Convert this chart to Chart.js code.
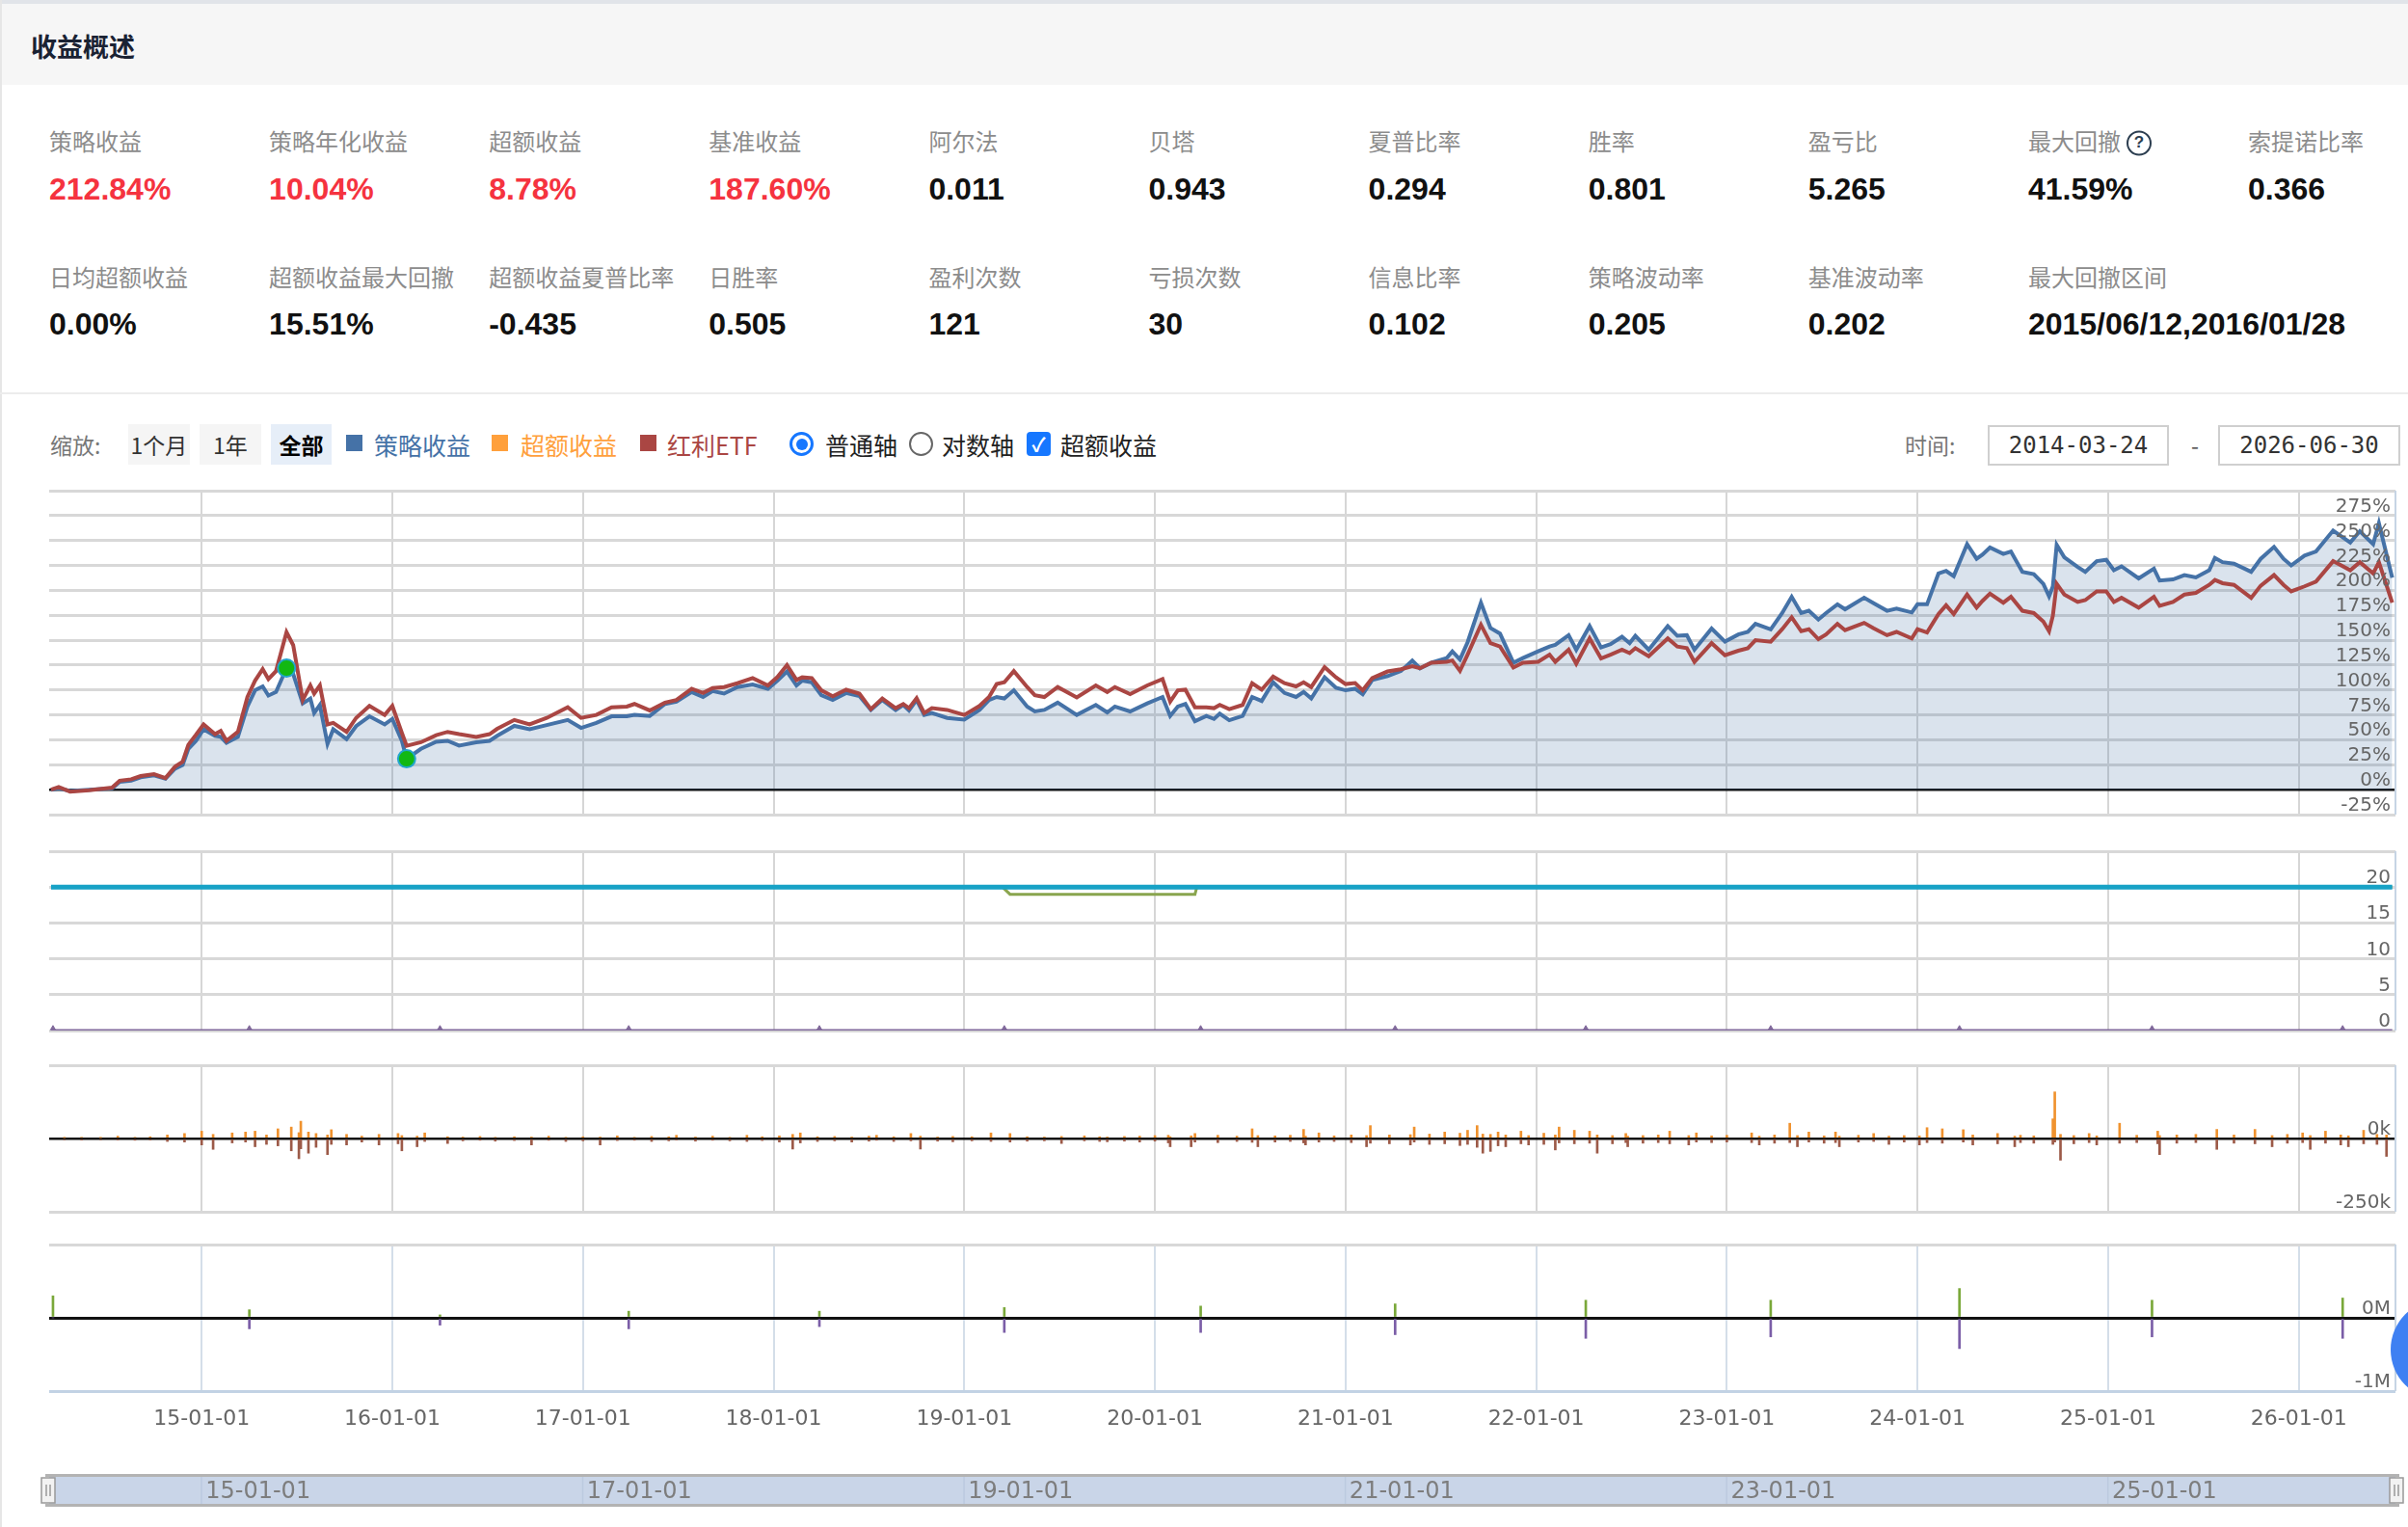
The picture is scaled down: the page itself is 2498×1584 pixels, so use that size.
<!DOCTYPE html>
<html lang="zh-CN">
<head>
<meta charset="utf-8">
<title>收益概述</title>
<script src="https://cdn.jsdelivr.net/npm/chart.js@4.4.1/dist/chart.umd.min.js"></script>
<style>
  html, body { margin: 0; padding: 0; }
  body { width: 2498px; height: 1584px; position: relative; overflow: hidden; background: #fff;
         font-family: "Noto Sans CJK SC", "Liberation Sans", sans-serif; }
  .abs { position: absolute; }
  #topband { left: 0; top: 0; width: 2498px; height: 4px; background: #e1e4e9; }
  #head { left: 0; top: 4px; width: 2498px; height: 84px; background: #f6f6f6; }
  #head span { position: absolute; left: 32px; top: 43px; transform: translateY(-50%); font-size: 27px; font-weight: bold; color: #1a2233; }
  #leftline { left: 0; top: 0; width: 2px; height: 1584px; background: #e6e6e6; }
  .lab { font-size: 24px; color: #8c8c8c; white-space: nowrap; transform: translateY(-50%); }
  .val { font-family: "Liberation Sans", "Noto Sans CJK SC", sans-serif; font-weight: bold; font-size: 32px;
         color: #111; white-space: nowrap; transform: translateY(-50%); }
  .red { color: #f5333f; }
  .q { display: inline-block; width: 22px; height: 22px; line-height: 20px; border: 2px solid #2c3e50; border-radius: 50%;
       font-size: 17px; font-weight: bold; color: #2c3e50; text-align: center; vertical-align: middle; margin-left: 6px;
       font-family: "Liberation Sans", sans-serif; }
  #sep { left: 0; top: 407px; width: 2498px; height: 2px; background: #ececec; }
  .tb { font-size: 25px; white-space: nowrap; top: 461px; transform: translateY(-50%); }
  .btn { top: 440px; height: 42px; line-height: 42px; text-align: center; font-size: 23px; color: #333; background: #f5f5f5; }
  .sq { width: 17px; height: 17px; top: 451px; }
  .box { top: 441px; height: 42px; line-height: 38px; box-sizing: border-box; border: 2px solid #cfcfcf;
         font-family: "DejaVu Sans Mono", monospace; font-size: 24px; color: #333; text-align: center; }
  .cw { left: 47px; width: 2442px; }
</style>
</head>
<body>
<div id="topband" class="abs"></div>
<div id="head" class="abs"><span>收益概述</span></div>
<div id="leftline" class="abs"></div>
<div id="stats"></div>
<div id="sep" class="abs"></div>

<div class="abs tb" style="left:52px;color:#777;font-size:23px">缩放:</div>
<div class="abs btn" style="left:133px;width:64px">1个月</div>
<div class="abs btn" style="left:207px;width:64px">1年</div>
<div class="abs btn" style="left:281px;width:63px;background:#e6eef8;color:#000;font-weight:bold">全部</div>
<div class="abs sq" style="left:359px;background:#4572a7"></div>
<div class="abs tb" style="left:388px;color:#4572a7">策略收益</div>
<div class="abs sq" style="left:510px;background:#ffa03c"></div>
<div class="abs tb" style="left:540px;color:#ffa03c">超额收益</div>
<div class="abs sq" style="left:664px;background:#aa4643"></div>
<div class="abs tb" style="left:692px;color:#aa4643">红利ETF</div>
<div class="abs" style="left:819px;top:448px;width:25px;height:25px;border-radius:50%;border:3px solid #1677ff;box-sizing:border-box">
  <div style="position:absolute;left:3.5px;top:3.5px;width:12px;height:12px;border-radius:50%;background:#1677ff"></div></div>
<div class="abs tb" style="left:856px;color:#222">普通轴</div>
<div class="abs" style="left:943px;top:448px;width:25px;height:25px;border-radius:50%;border:2px solid #666;box-sizing:border-box"></div>
<div class="abs tb" style="left:977px;color:#222">对数轴</div>
<div class="abs" style="left:1065px;top:448px;width:25px;height:25px;border-radius:4px;background:#1677ff;color:#fff;font-size:20px;line-height:25px;text-align:center;font-weight:bold">✓</div>
<div class="abs tb" style="left:1100px;color:#222">超额收益</div>
<div class="abs tb" style="left:1976px;color:#777;font-size:23px">时间:</div>
<div class="abs box" style="left:2062px;width:188px">2014-03-24</div>
<div class="abs tb" style="left:2273px;color:#555;font-size:23px">-</div>
<div class="abs box" style="left:2301px;width:189px">2026-06-30</div>

<div class="abs cw" style="top:505px;height:344px"><canvas id="c1"></canvas></div>
<div class="abs cw" style="top:879px;height:194px"><canvas id="c2"></canvas></div>
<div class="abs cw" style="top:1101px;height:160px"><canvas id="c3"></canvas></div>
<div class="abs cw" style="top:1287px;height:210px"><canvas id="c4"></canvas></div>
<div class="abs" style="left:35px;width:2463px;top:1526px;height:48px"><canvas id="nav"></canvas></div>
<div class="abs" style="left:2480px;top:1348px;width:104px;height:104px;border-radius:50%;background:#3f80f2"></div>

<script>
// ---- summary numbers
const statNames = ['策略收益', '策略年化收益', '超额收益', '基准收益', '阿尔法', '贝塔', '夏普比率', '胜率', '盈亏比', '最大回撤', '索提诺比率'];
const statValues = ['212.84%', '10.04%', '8.78%', '187.60%', '0.011', '0.943', '0.294', '0.801', '5.265', '41.59%', '0.366'];
const statNames2 = ['日均超额收益', '超额收益最大回撤', '超额收益夏普比率', '日胜率', '盈利次数', '亏损次数', '信息比率', '策略波动率', '基准波动率', '最大回撤区间'];
const statValues2 = ['0.00%', '15.51%', '-0.435', '0.505', '121', '30', '0.102', '0.205', '0.202', '2015/06/12,2016/01/28'];

// ---- cumulative returns (%), x = decimal year
const years = [
  2014.21, 2014.25, 2014.31, 2014.41, 2014.53, 2014.57, 2014.63, 2014.68, 2014.75, 2014.81, 2014.86, 2014.90, 2014.93, 2014.97,
  2015.01, 2015.07, 2015.10, 2015.13, 2015.19, 2015.24, 2015.28, 2015.32, 2015.35, 2015.39, 2015.445, 2015.48, 2015.53, 2015.57, 2015.59, 2015.62, 2015.66, 2015.69, 2015.76, 2015.81, 2015.88, 2015.96,
  2016.00, 2016.05, 2016.075, 2016.15, 2016.23, 2016.29, 2016.35, 2016.44, 2016.51, 2016.55, 2016.64, 2016.72, 2016.81, 2016.92, 2016.99,
  2017.07, 2017.15, 2017.23, 2017.27, 2017.35, 2017.43, 2017.49, 2017.57, 2017.63, 2017.68, 2017.74, 2017.81, 2017.89, 2017.97,
  2018.02, 2018.07, 2018.12, 2018.15, 2018.20, 2018.25, 2018.31, 2018.38, 2018.45, 2018.51, 2018.57, 2018.64, 2018.68, 2018.71, 2018.75, 2018.79, 2018.83, 2018.91,
  2019.00, 2019.08, 2019.13, 2019.17, 2019.21, 2019.26, 2019.33, 2019.37, 2019.42, 2019.49, 2019.59, 2019.69, 2019.75, 2019.79, 2019.87, 2019.96,
  2020.04, 2020.08, 2020.12, 2020.16, 2020.21, 2020.27, 2020.31, 2020.34, 2020.39, 2020.46, 2020.51, 2020.56, 2020.62, 2020.68, 2020.74, 2020.78, 2020.82, 2020.89, 2020.95,
  2021.00, 2021.05, 2021.09, 2021.14, 2021.22, 2021.29, 2021.35, 2021.39, 2021.45, 2021.53, 2021.56, 2021.60, 2021.64, 2021.71, 2021.76, 2021.81, 2021.88, 2021.93,
  2022.01, 2022.07, 2022.10, 2022.17, 2022.21, 2022.28, 2022.34, 2022.39, 2022.45, 2022.49, 2022.52, 2022.59, 2022.69, 2022.74, 2022.79, 2022.83, 2022.92, 2022.99,
  2023.06, 2023.11, 2023.15, 2023.23, 2023.29, 2023.34, 2023.39, 2023.43, 2023.48, 2023.52, 2023.58, 2023.62, 2023.72, 2023.77, 2023.84, 2023.89, 2023.97,
  2024.00, 2024.05, 2024.11, 2024.15, 2024.19, 2024.26, 2024.31, 2024.34, 2024.38, 2024.45, 2024.49, 2024.55, 2024.61, 2024.66, 2024.69, 2024.71, 2024.73, 2024.77, 2024.84, 2024.88, 2024.94, 2024.99,
  2025.03, 2025.07, 2025.16, 2025.24, 2025.27, 2025.34, 2025.40, 2025.46, 2025.53, 2025.56, 2025.60, 2025.66, 2025.75, 2025.80, 2025.87, 2025.92, 2025.96,
  2026.03, 2026.09, 2026.18, 2026.27, 2026.32, 2026.39, 2026.42, 2026.49
];
const strategyRet = [
  0, 1.3, -1.3, 0, 1.3, 8, 9, 12.4, 14.3, 11, 21, 24.8, 41, 49,
  60.6, 54, 53, 47, 53, 83.4, 99.7, 103.6, 94.5, 98, 122, 116, 86.6, 91.5, 76.9, 85, 46, 60.6, 50.8, 63.8, 73.6, 65.5,
  71, 49, 31, 41, 48, 49, 44.3, 47.6, 49, 54, 64, 60.6, 64.8, 70, 62,
  67, 73.6, 73.6, 75, 74, 86, 88.3, 98, 93, 99, 96.4, 103, 105.5, 101.3,
  109.4, 118.6, 104.6, 109.4, 107.8, 94.8, 90, 97, 94, 80, 90, 80, 85, 79.5, 90, 75, 76.9, 72,
  70.4, 80, 90, 93, 91.5, 99.7, 83.4, 78.5, 80, 87.3, 75, 85, 77.5, 83.4, 78.5, 86.6,
  93, 74, 83.4, 86, 68.7, 74, 71, 76.2, 69.7, 74, 93, 89, 107.8, 97, 93, 98, 91.5, 112.7, 102.3,
  99.7, 101.3, 95.8, 110, 114, 119, 129.6, 121.8, 127.4, 132, 138.8, 130.6, 147.9, 187.6, 162.2, 156.7, 127.4, 132,
  138.8, 143.6, 145.3, 155, 140.4, 164.2, 142.7, 146, 153.4, 147, 154.4, 140.4, 164.2, 154.4, 155, 140.4, 161.6, 148.5,
  155.7, 158.3, 166.4, 160.9, 177.2, 193.5, 177.2, 179.5, 170.7, 177.2, 186, 181, 192.5, 187, 179.5, 181.8, 177.8,
  186, 186, 216.9, 219.5, 214.3, 246.3, 231.6, 235.8, 243, 236.5, 239, 218.6, 216.3, 206.5, 194, 204, 245.6, 233.2, 223.5, 218.6, 229.3, 230.6,
  220.2, 224.1, 212, 221.8, 209.8, 211, 215.3, 213, 220.2, 232.6, 228.3, 226.7, 218.6, 231.6, 243.6, 231.6, 225,
  234.9, 239, 260, 247.9, 259.3, 246.3, 267.4, 212.8
];
const etfRet = [
  0, 2.6, -2, -0.6, 2, 9, 10.4, 13.7, 15.6, 11.7, 23, 28, 45, 55,
  65.5, 55.7, 59, 49, 58, 93, 109.4, 121, 111, 119, 158, 145, 90, 104.6, 96.4, 104.6, 65.5, 67, 58, 72, 84, 75,
  84, 57, 44, 47.6, 54.7, 58, 55.7, 52.8, 55.7, 61, 70, 65.5, 72, 82.7, 72,
  75, 82.7, 83.4, 86, 79.5, 87.3, 90, 101.3, 97, 102, 103, 106.8, 112, 104.6,
  113, 125, 110, 112.7, 112, 99.7, 93.8, 100.3, 96.4, 80.8, 91.5, 81.8, 86, 81.8, 91.9, 76.9, 81.8, 80,
  75, 84, 93, 106, 107.8, 119, 103, 94.8, 93, 103, 92.5, 104.6, 98, 103, 95.8, 104.6,
  111, 88.3, 99.7, 100.3, 82.7, 82.7, 81.8, 85, 80.8, 85, 106.8, 100.3, 113.4, 106.8, 103.6, 107.8, 103, 123, 112.7,
  106, 107, 99.7, 112, 118.6, 120.8, 124, 121.8, 127.4, 128.3, 129.6, 119.2, 135.5, 165.5, 147, 143.6, 122.5, 127.4,
  128.3, 135.5, 128.3, 140.4, 126.4, 151.8, 131.6, 135.5, 140.4, 137, 142, 133.9, 151.8, 143.6, 142, 128.3, 147, 134.9,
  139.4, 142, 150, 148.5, 161, 173, 159, 161, 151, 155.7, 166.4, 160, 167.4, 162, 155, 158.3, 151.8,
  161, 157.7, 176.2, 185, 176.2, 195.8, 182.7, 189.3, 196.7, 187.6, 193.5, 179.5, 177.2, 168.7, 159, 174.6, 206.5, 195.8, 188.3, 190.2, 199, 199,
  188.3, 192.5, 182.7, 193.5, 184.4, 188.3, 195.8, 197.4, 205.5, 210.4, 207.2, 205.5, 192.5, 204.6, 215.3, 205.5, 199,
  204, 208.8, 229.3, 220.2, 228.3, 217, 228.3, 187.6
];
// max drawdown start / end
const ddYears = [2015.445, 2016.075];
const ddRet = [122, 31];

// ---- position panel
const fullSpan = [2014.21, 2026.49];
const capLine = [20, 20];
const holdYears = [2014.21, 2019.20, 2019.24, 2020.21, 2020.22, 2026.49];
const holdCount = [20, 20, 19, 19, 20, 20];
const baseLine = [0, 0];

// ---- daily flows (k)
const flowYears = [
  2014.28, 2014.37, 2014.47, 2014.56, 2014.65, 2014.73, 2014.82, 2014.91,
  2015.00, 2015.06, 2015.16, 2015.23, 2015.28, 2015.34, 2015.40, 2015.47, 2015.51, 2015.52, 2015.56, 2015.60, 2015.66, 2015.68, 2015.76, 2015.84, 2015.93,
  2016.03, 2016.05, 2016.13, 2016.17, 2016.29, 2016.37, 2016.46, 2016.54, 2016.64, 2016.73, 2016.82, 2016.91,
  2017.00, 2017.09, 2017.18, 2017.27, 2017.36, 2017.45, 2017.49, 2017.59, 2017.68, 2017.77, 2017.86, 2017.94,
  2018.03, 2018.10, 2018.14, 2018.23, 2018.32, 2018.41, 2018.50, 2018.54, 2018.63, 2018.72, 2018.77, 2018.86, 2018.94,
  2019.04, 2019.14, 2019.24, 2019.33, 2019.42, 2019.51, 2019.63, 2019.71, 2019.75, 2019.84, 2019.92,
  2020.00, 2020.07, 2020.08, 2020.19, 2020.21, 2020.33, 2020.43, 2020.51, 2020.54, 2020.63, 2020.71, 2020.78, 2020.79, 2020.86, 2020.94,
  2021.03, 2021.11, 2021.13, 2021.23, 2021.34, 2021.36, 2021.44, 2021.52, 2021.60, 2021.64, 2021.69, 2021.72, 2021.76, 2021.80, 2021.84, 2021.92, 2021.96,
  2022.04, 2022.10, 2022.12, 2022.20, 2022.28, 2022.32, 2022.40, 2022.47, 2022.48, 2022.56, 2022.64, 2022.70, 2022.80, 2022.84, 2022.92,
  2023.00, 2023.13, 2023.17, 2023.25, 2023.33, 2023.37, 2023.43, 2023.51, 2023.57, 2023.59, 2023.69, 2023.77, 2023.85, 2023.93,
  2024.01, 2024.05, 2024.13, 2024.24, 2024.29, 2024.42, 2024.51, 2024.54, 2024.61, 2024.71, 2024.72, 2024.75, 2024.82, 2024.90, 2024.94,
  2025.06, 2025.15, 2025.26, 2025.27, 2025.36, 2025.46, 2025.57, 2025.66, 2025.77, 2025.86, 2025.94,
  2026.02, 2026.06, 2026.14, 2026.22, 2026.26, 2026.34, 2026.41, 2026.46
];
const flowIn = [
  3, 4, 3, 8, 4, 6, 12, 17,
  25, 14, 19, 22, 25, 12, 33, 39, 20, 59, 22, 17, 12, 30, 14, 8, 14,
  17, 10, 8, 19, 6, 5, 7, 4, 6, 5, 8, 4,
  6, 5, 9, 4, 7, 6, 11, 5, 8, 4, 11, 6,
  9, 14, 19, 6, 7, 5, 8, 11, 6, 17, 8, 5, 7,
  6, 19, 17, 6, 5, 7, 9, 6, 5, 7, 8,
  10, 11, 6, 9, 17, 11, 8, 33, 10, 9, 11, 31, 8, 19, 9,
  12, 10, 44, 12, 13, 39, 15, 22, 18, 28, 44, 15, 14, 22, 12, 25, 10,
  18, 12, 39, 28, 25, 12, 10, 17, 8, 10, 12, 25, 10, 19, 9,
  11, 19, 8, 12, 52, 10, 22, 9, 22, 8, 11, 17, 8, 10,
  9, 37, 33, 30, 12, 17, 8, 11, 9, 67, 159, 14, 10, 17, 9,
  52, 11, 25, 10, 12, 14, 31, 12, 31, 10, 14,
  19, 10, 25, 12, 9, 28, 14, 12
];
const flowOut = [
  -4, -5, -4, -5, -6, -5, -10, -12,
  -22, -37, -15, -12, -28, -20, -25, -42, -69, -35, -50, -30, -55, -20, -22, -12, -22,
  -18, -42, -28, -10, -17, -8, -6, -9, -7, -22, -6, -10,
  -8, -22, -7, -6, -10, -8, -5, -9, -6, -8, -10, -7,
  -12, -36, -15, -10, -8, -12, -9, -6, -10, -8, -36, -9, -11,
  -8, -10, -12, -9, -8, -17, -8, -10, -11, -9, -12,
  -9, -15, -28, -28, -12, -14, -10, -13, -28, -12, -10, -15, -22, -12, -10,
  -14, -28, -16, -18, -22, -12, -20, -18, -24, -20, -30, -50, -44, -25, -28, -18, -22,
  -20, -39, -15, -18, -16, -50, -18, -14, -28, -16, -14, -18, -22, -12, -14,
  -12, -14, -22, -16, -14, -28, -12, -16, -14, -28, -12, -10, -20, -12,
  -22, -14, -16, -12, -22, -18, -28, -14, -16, -20, -12, -74, -18, -14, -22,
  -16, -14, -18, -55, -16, -14, -37, -16, -18, -28, -16,
  -14, -37, -16, -22, -28, -18, -20, -61
];

// ---- yearly rebalancing trades (M)
const rebalYears = [2014.22, 2015.25, 2016.25, 2017.24, 2018.24, 2019.21, 2020.24, 2021.26, 2022.26, 2023.23, 2024.22, 2025.23, 2026.23];
const buyAmt = [0.30, 0.11, 0.04, 0.09, 0.09, 0.14, 0.16, 0.19, 0.24, 0.24, 0.40, 0.24, 0.27];
const sellAmt = [0, -0.15, -0.10, -0.15, -0.12, -0.20, -0.20, -0.23, -0.28, -0.26, -0.42, -0.26, -0.28];
const rebalMark = [0.3, 0.3, 0.3, 0.3, 0.3, 0.3, 0.3, 0.3, 0.3, 0.3, 0.3, 0.3, 0.3];

const X_MIN = 2014.2, X_MAX = 2026.507;
const yearTicks = [];
for (let y = 2015; y <= 2026; y++) yearTicks.push(y);

// stats block
const statsEl = document.getElementById('stats');
function addStat(i, name, value, yLab, yVal) {
  const left = 51 + 228.1 * i;
  const lab = document.createElement('div');
  lab.className = 'abs lab';
  lab.style.left = left + 'px'; lab.style.top = yLab + 'px';
  lab.innerHTML = name + (name === '最大回撤' ? '<span class="q">?</span>' : '');
  statsEl.appendChild(lab);
  const val = document.createElement('div');
  val.className = 'abs val' + (i < 4 && yLab < 200 ? ' red' : '');
  val.style.left = left + 'px'; val.style.top = yVal + 'px';
  val.textContent = value;
  statsEl.appendChild(val);
}
statNames.forEach((n, i) => addStat(i, n, statValues[i], 145, 196));
statNames2.forEach((n, i) => addStat(i, n, statValues2[i], 286, 336));

function pts(xs, ys) { return xs.map((x, i) => ({ x: x, y: ys[i] })); }

// right-side labels, right edge, optional date labels
const frame = {
  id: 'frame',
  afterDatasetsDraw(chart, args, o) {
    const { ctx, chartArea: a } = chart;
    const y = chart.scales.y, x = chart.scales.x;
    ctx.save();
    ctx.strokeStyle = o.edge;
    ctx.lineWidth = 2;
    ctx.beginPath(); ctx.moveTo(a.right, a.top); ctx.lineTo(a.right, a.bottom); ctx.stroke();
    ctx.font = '20px "DejaVu Sans"';
    ctx.fillStyle = '#666';
    ctx.textAlign = 'right';
    ctx.textBaseline = 'alphabetic';
    y.ticks.forEach(t => {
      if (t.value < y.max) ctx.fillText(t.value + o.suffix, a.right - 5, y.getPixelForValue(t.value) - 4);
    });
    if (o.dates) {
      ctx.textAlign = 'center';
      ctx.textBaseline = 'middle';
      ctx.font = '22px "DejaVu Sans"';
      x.ticks.forEach(t => ctx.fillText(String(t.value).slice(2) + '-01-01', x.getPixelForValue(t.value), a.bottom + 29));
    }
    ctx.restore();
  }
};

function xAxis(col) {
  return {
    type: 'linear', min: X_MIN, max: X_MAX, offset: false,
    ticks: { display: false },
    border: { display: false },
    grid: { color: col || '#d6d6d6', lineWidth: 2, drawTicks: false, offset: false },
    afterBuildTicks: s => { s.ticks = yearTicks.map(v => ({ value: v })); }
  };
}
function yAxis(min, max, step, colorFn, widthFn) {
  return {
    position: 'right', min: min, max: max,
    ticks: { display: false, stepSize: step },
    border: { display: false },
    grid: { drawTicks: false, color: colorFn, lineWidth: widthFn }
  };
}
function opts(xs, ys, frameOpts, pad) {
  return {
    responsive: true, maintainAspectRatio: false, animation: false,
    layout: { padding: pad || 4, autoPadding: false },
    plugins: { legend: { display: false }, tooltip: { enabled: false }, frame: frameOpts },
    scales: { x: xs, y: ys }
  };
}
const zeroDark = c => (c.tick && c.tick.value === 0 ? '#111' : '#d8d8d8');
const zeroWide = c => (c.tick && c.tick.value === 0 ? 2.5 : 3);

// 1: cumulative returns
new Chart(document.getElementById('c1'), {
  type: 'line',
  data: {
    datasets: [
      { data: pts(ddYears, ddRet), showLine: false, pointRadius: 9, pointBackgroundColor: '#12b812',
        pointBorderColor: '#23a6cc', pointBorderWidth: 2, order: 0 },
      { data: pts(years, etfRet), borderColor: '#aa4643', borderWidth: 4, pointRadius: 0, fill: false, order: 1 },
      { data: pts(years, strategyRet), borderColor: '#4572a7', borderWidth: 4, pointRadius: 0,
        fill: 'origin', backgroundColor: 'rgba(69,114,167,0.2)', order: 2 }
    ]
  },
  options: opts(xAxis(), yAxis(-25, 300, 25, zeroDark, zeroWide), { suffix: '%', edge: '#c6d4e4', dates: false }),
  plugins: [frame]
});

// 2: positions
new Chart(document.getElementById('c2'), {
  type: 'line',
  data: {
    datasets: [
      { data: pts(fullSpan, capLine), borderColor: '#17a2c6', borderWidth: 5, pointRadius: 0, order: 0 },
      { data: pts(holdYears, holdCount), borderColor: '#89a54e', borderWidth: 3, pointRadius: 0, order: 1 },
      { data: pts(fullSpan, baseLine), borderColor: '#80699b', borderWidth: 3, pointRadius: 0, order: 2 },
      { data: pts(rebalYears, rebalMark), showLine: false, pointStyle: 'triangle', pointRadius: 3,
        pointBackgroundColor: '#80699b', pointBorderColor: '#80699b', order: 2 }
    ]
  },
  options: opts(xAxis(), yAxis(0, 25, 5, () => '#d8d8d8', () => 3), { suffix: '', edge: '#c6d4e4', dates: false }),
  plugins: [frame]
});

// 3: daily flows
new Chart(document.getElementById('c3'), {
  type: 'bar',
  data: {
    datasets: [
      { data: pts(flowYears, flowIn), backgroundColor: '#f0922e', barThickness: 2, grouped: false },
      { data: pts(flowYears, flowOut), backgroundColor: '#9c5a48', barThickness: 2, grouped: false }
    ]
  },
  options: opts(xAxis(), yAxis(-250, 250, 250, zeroDark, zeroWide), { suffix: 'k', edge: '#c6d4e4', dates: false }),
  plugins: [frame]
});

// 4: rebalancing trades
const c4Color = c => (c.tick && c.tick.value === 0 ? '#111' : (c.tick && c.tick.value === -1 ? '#c2d2e4' : '#d8d8d8'));
new Chart(document.getElementById('c4'), {
  type: 'bar',
  data: {
    datasets: [
      { data: pts(rebalYears, buyAmt), backgroundColor: '#7aa83a', barThickness: 2, grouped: false },
      { data: pts(rebalYears, sellAmt), backgroundColor: '#7b5ea7', barThickness: 2, grouped: false }
    ]
  },
  options: opts(xAxis('#d4dee9'), yAxis(-1, 1, 1, c4Color, () => 3), { suffix: 'M', edge: '#c6d4e4', dates: true },
    { left: 4, right: 4, top: 4, bottom: 54 }),
  plugins: [frame]
});

// navigator strip
const navBar = {
  id: 'navBar',
  beforeDatasetsDraw(chart) {
    const { ctx, chartArea: a } = chart;
    const x = chart.scales.x;
    ctx.save();
    ctx.fillStyle = '#c9d5e8';
    ctx.fillRect(a.left, a.top, a.right - a.left, a.bottom - a.top);
    ctx.fillStyle = '#b3b3b3';
    ctx.fillRect(a.left - 4, a.top - 1, a.right - a.left + 8, 3);
    ctx.fillRect(a.left - 4, a.bottom - 2, a.right - a.left + 8, 3);
    ctx.font = '24px "DejaVu Sans"';
    ctx.textBaseline = 'middle';
    ctx.textAlign = 'left';
    x.ticks.forEach(t => {
      if (t.value % 2 === 0) return;
      const px = x.getPixelForValue(t.value);
      ctx.fillStyle = '#bccadf';
      ctx.fillRect(px - 1, a.top + 2, 1.5, a.bottom - a.top - 4);
      ctx.fillStyle = '#7d7d7d';
      ctx.fillText(String(t.value).slice(2) + '-01-01', px + 4, (a.top + a.bottom) / 2 + 2);
    });
    [a.left - 1, a.right + 1].forEach(hx => {
      ctx.fillStyle = '#f2f2f2';
      ctx.strokeStyle = '#999';
      ctx.lineWidth = 1.5;
      ctx.fillRect(hx - 7, a.top + 3, 14, a.bottom - a.top - 6);
      ctx.strokeRect(hx - 7, a.top + 3, 14, a.bottom - a.top - 6);
      ctx.beginPath();
      ctx.moveTo(hx - 2, a.top + 10); ctx.lineTo(hx - 2, a.bottom - 10);
      ctx.moveTo(hx + 2, a.top + 10); ctx.lineTo(hx + 2, a.bottom - 10);
      ctx.stroke();
    });
    ctx.restore();
  }
};
new Chart(document.getElementById('nav'), {
  type: 'line',
  data: { datasets: [] },
  options: {
    responsive: true, maintainAspectRatio: false, animation: false,
    layout: { padding: { left: 16, right: 13, top: 4, bottom: 4 }, autoPadding: false },
    plugins: { legend: { display: false }, tooltip: { enabled: false } },
    scales: {
      x: Object.assign(xAxis(), { grid: { display: false } }),
      y: { display: false, min: 0, max: 1 }
    }
  },
  plugins: [navBar]
});
</script>
</body>
</html>
